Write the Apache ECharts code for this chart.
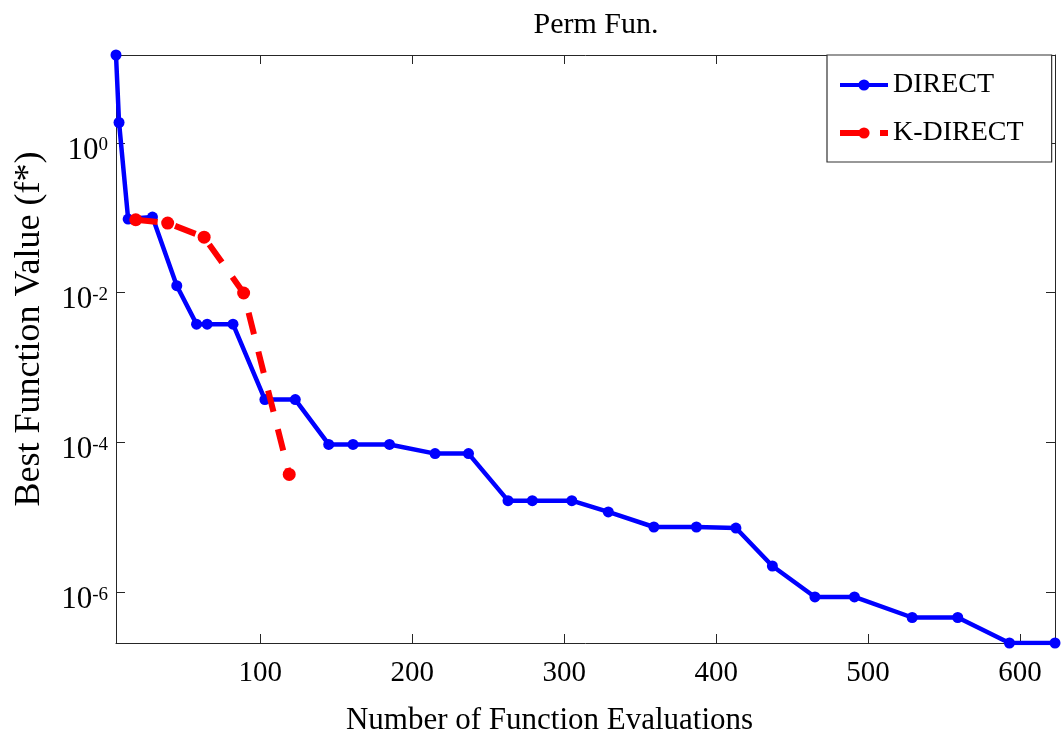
<!DOCTYPE html>
<html>
<head>
<meta charset="utf-8">
<script src="https://cdn.jsdelivr.net/npm/echarts@6/dist/echarts.min.js"></script>
<style>
html,body{margin:0;padding:0;background:#fff;}
#chart{width:1061px;height:746px;}
</style>
</head>
<body>
<div id="chart"></div>
<script>
// ---- data ----
const titleText = 'Perm Fun.';
const xAxisName = 'Number of Function Evaluations';
const yAxisName = 'Best Function Value (f*)';
const xTicks = [100, 200, 300, 400, 500, 600];
const yTicks = [1e-6, 1e-4, 1e-2, 1];
const xRange = [5, 623];
const yRange = [2.1e-7, 14.9];

const directEvals = [5, 7, 13, 29, 45, 58, 65, 82, 103, 123, 145, 161, 185, 215, 237, 263, 279, 305, 329, 359, 387, 413, 437, 465, 491, 529, 559, 593, 623];
const directBest = [14.9, 1.87, 0.096, 0.102, 0.0124, 0.0038, 0.0038, 0.0038, 3.74e-4, 3.74e-4, 9.4e-5, 9.4e-5, 9.4e-5, 7.1e-5, 7.1e-5, 1.67e-5, 1.67e-5, 1.67e-5, 1.18e-5, 7.43e-6, 7.43e-6, 7.2e-6, 2.24e-6, 8.65e-7, 8.65e-7, 4.6e-7, 4.6e-7, 2.1e-7, 2.1e-7];

const kdirectEvals = [18, 39, 63, 89, 119];
const kdirectBest = [0.094, 0.085, 0.055, 0.0099, 3.74e-5];

// ---- chart ----
const FONT = '"Liberation Serif", "Times New Roman", serif';
const AXIS_COLOR = '#262626';

const chart = echarts.init(document.getElementById('chart'), null, {renderer: 'canvas'});

function pairs(xs, ys) { return xs.map((x, i) => [x, ys[i]]); }

const expFormatter = v => {
  const e = Math.round(Math.log10(v));
  return '{b|10}{s|' + e + '}';
};

const commonX = {
  type: 'value', min: xRange[0], max: xRange[1],
  axisLine: {show: true, lineStyle: {color: AXIS_COLOR, width: 1}},
  splitLine: {show: false}
};
const commonY = {
  type: 'log', logBase: 10, min: yRange[0], max: yRange[1],
  axisLine: {show: true, lineStyle: {color: AXIS_COLOR, width: 1}},
  splitLine: {show: false}, minorTick: {show: false}
};

chart.setOption({
  animation: false,
  backgroundColor: '#fff',
  title: {
    text: titleText, left: 591, top: 5, textAlign: 'center',
    textStyle: {fontFamily: FONT, fontWeight: 'normal', fontSize: 30, color: '#000'}
  },
  grid: {left: 116, right: 6, top: 55, bottom: 103, containLabel: false},
  legend: {
    orient: 'vertical', left: 827, top: 55,
    padding: [13, 28, 12, 10], itemGap: 14,
    itemWidth: 48, itemHeight: 14,
    backgroundColor: '#fff', borderColor: '#333', borderWidth: 1.2, borderRadius: 0,
    textStyle: {fontFamily: FONT, fontSize: 28, color: '#000', lineHeight: 34},
    data: [
      {name: 'DIRECT', lineStyle: {width: 4}},
      {name: 'K-DIRECT', lineStyle: {width: 6}}
    ]
  },
  xAxis: [
    Object.assign({}, commonX, {
      position: 'bottom',
      name: xAxisName, nameLocation: 'middle', nameGap: 62,
      nameTextStyle: {fontFamily: FONT, fontSize: 31, color: '#000', padding: [0, 72, 0, 0]},
      axisTick: {show: true, inside: true, length: 9, lineStyle: {color: AXIS_COLOR}, customValues: xTicks},
      axisLabel: {show: true, margin: 16, fontFamily: FONT, fontSize: 29, color: '#000', customValues: xTicks}
    }),
    Object.assign({}, commonX, {
      position: 'top',
      axisTick: {show: true, inside: true, length: 9, lineStyle: {color: AXIS_COLOR}, customValues: xTicks},
      axisLabel: {show: false}
    })
  ],
  yAxis: [
    Object.assign({}, commonY, {
      position: 'left',
      name: yAxisName, nameLocation: 'middle', nameGap: 68, nameRotate: 90,
      nameTextStyle: {fontFamily: FONT, fontSize: 36, color: '#000', padding: [0, 0, 0, 40]},
      axisTick: {show: true, inside: true, length: 9, lineStyle: {color: AXIS_COLOR}, customValues: yTicks},
      axisLabel: {
        show: true, margin: 8, customValues: yTicks, formatter: expFormatter,
        padding: [16, 0, 0, 0],
        rich: {
          b: {fontFamily: FONT, fontSize: 31, color: '#000', lineHeight: 30, verticalAlign: 'bottom'},
          s: {fontFamily: FONT, fontSize: 19, color: '#000', lineHeight: 30, verticalAlign: 'top'}
        }
      }
    }),
    Object.assign({}, commonY, {
      position: 'right',
      axisTick: {show: true, inside: true, length: 9, lineStyle: {color: AXIS_COLOR}, customValues: yTicks},
      axisLabel: {show: false}
    })
  ],
  series: [
    {
      name: 'DIRECT', type: 'line', xAxisIndex: 0, yAxisIndex: 0,
      data: pairs(directEvals, directBest),
      symbol: 'circle', symbolSize: 11, showAllSymbol: true,
      lineStyle: {color: '#0000ff', width: 4.5},
      itemStyle: {color: '#0000ff'},
      z: 3
    },
    {
      name: 'K-DIRECT', type: 'line', xAxisIndex: 0, yAxisIndex: 0,
      data: pairs(kdirectEvals, kdirectBest),
      symbol: 'circle', symbolSize: 13, showAllSymbol: true,
      lineStyle: {color: '#ff0000', width: 6, type: [22, 18], cap: 'butt'},
      itemStyle: {color: '#ff0000'},
      z: 4
    }
  ]
});
</script>
</body>
</html>
